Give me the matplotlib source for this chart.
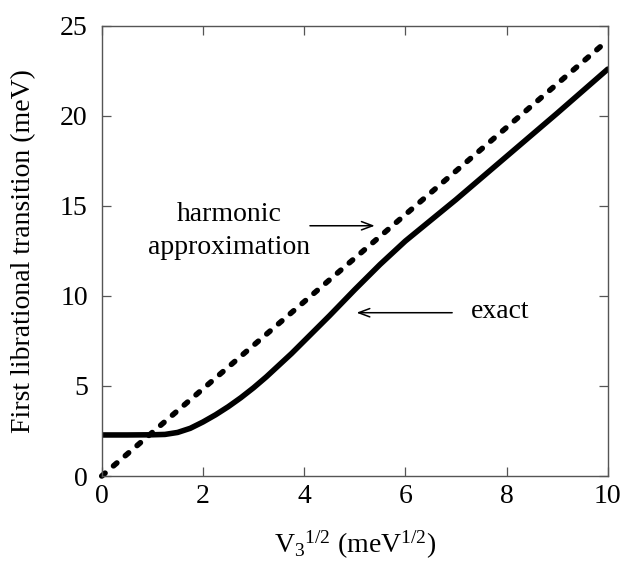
import matplotlib
matplotlib.use('Agg')
import matplotlib.pyplot as plt
import numpy as np

# values
v3_sqrt = [0.0, 0.5, 1.0, 1.25, 1.5, 1.75, 2.0, 2.25, 2.5, 2.75, 3.0, 3.25, 3.5,
           3.75, 4.0, 4.25, 4.5, 5.0, 5.5, 6.0, 7.0, 8.0, 9.0, 10.0]
exact = [2.28, 2.28, 2.29, 2.31, 2.42, 2.65, 3.0, 3.4, 3.85, 4.35, 4.9, 5.5, 6.15,
         6.8, 7.5, 8.2, 8.9, 10.35, 11.75, 13.05, 15.35, 17.75, 20.15, 22.6]
harm_x = [0.0, 10.0]
harm_y = [0.0, 24.2]

xticks = [0, 2, 4, 6, 8, 10]
yticks = [0, 5, 10, 15, 20, 25]

plt.rcParams['font.family'] = ['Liberation Serif', 'DejaVu Serif']
plt.rcParams['mathtext.fontset'] = 'custom'
plt.rcParams['mathtext.rm'] = 'Liberation Serif'
plt.rcParams['mathtext.it'] = 'Liberation Serif:italic'

fig = plt.figure(figsize=(6.24, 5.63), dpi=100)
ax = fig.add_axes([0.163, 0.1545, 0.811, 0.7995])

ax.plot(harm_x, harm_y, color='black', lw=4.0, dashes=(0.8, 2.0),
        dash_capstyle='round', clip_on=False)
ax.plot(v3_sqrt, exact, color='black', lw=4.0, solid_capstyle='round',
        solid_joinstyle='round')

ax.set_xlim(0, 10)
ax.set_ylim(0, 25)
ax.set_xticks(xticks)
ax.set_yticks(yticks)
ax.tick_params(direction='in', length=6.5, width=0.9, color='#555555',
               top=True, right=True, labelsize=20)
ax.tick_params(axis='x', pad=6)
ax.tick_params(axis='y', pad=10)
for s in ax.spines.values():
    s.set_color('#555555')
    s.set_linewidth(1.0)

ax.set_ylabel('First librational transition (meV)', fontsize=20, labelpad=17)
ax.set_xlabel(r'V$_3$$^{1/2}$ (meV$^{1/2}$)', fontsize=20, labelpad=14)

# labels and arrows
ax.text(2.52, 14.15, 'harmonic', fontsize=20, ha='center', va='baseline')
ax.text(2.52, 12.35, 'approximation', fontsize=20, ha='center', va='baseline')
ax.annotate('', xy=(5.45, 13.9), xytext=(4.06, 13.9),
            arrowprops=dict(arrowstyle='->,head_length=0.8,head_width=0.3',
                            lw=1.1, color='black'))
ax.text(7.29, 8.76, 'exact', fontsize=20, ha='left', va='baseline')
ax.annotate('', xy=(4.98, 9.07), xytext=(6.98, 9.07),
            arrowprops=dict(arrowstyle='->,head_length=0.8,head_width=0.3',
                            lw=1.1, color='black'))

fig.savefig('out.png', dpi=100)
